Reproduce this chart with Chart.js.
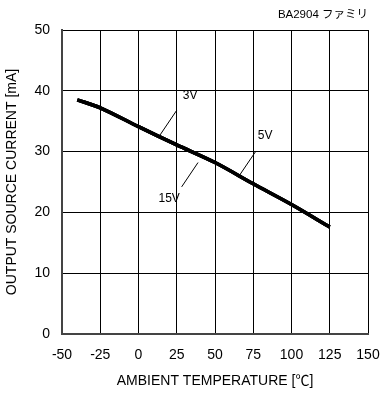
<!DOCTYPE html>
<html>
<head>
<meta charset="utf-8">
<script src="https://cdn.jsdelivr.net/npm/chart.js@4/dist/chart.umd.min.js"></script>
<style>
  html, body { margin: 0; padding: 0; background: #fff; }
  #wrap { width: 381px; height: 394px; position: relative; }
</style>
</head>
<body>
<div id="wrap"><canvas id="c"></canvas></div>
<script>
// temperatures [°C] and source current [mA]
const temps = [-40, -25, 0, 25, 50, 75, 100, 125];
const current3V = [38.5, 37.2, 34.1, 31.1, 28.2, 24.7, 21.3, 17.6];
const current5V = [38.5, 37.2, 34.1, 31.1, 28.2, 24.7, 21.3, 17.6];
const current15V = [38.5, 37.2, 34.1, 31.1, 28.2, 24.7, 21.3, 17.6];

// curve labels: text position and leader line (data coords)
const curveLabels = [
    { text: '3V', tx: 29, ty: 39.2, from: [25, 36.8], to: [14, 32.7], align: 'left' },
    { text: '5V', tx: 78, ty: 32.6, from: [76.8, 30.1], to: [65.2, 25.8], align: 'left' },
    { text: '15V', tx: 27, ty: 22.3, from: [38.9, 28.2], to: [28.2, 24.2], align: 'right' }
];

const FONT = '"Liberation Sans", Arial, "Noto Sans CJK JP", sans-serif';

function toPoints(vals) {
    return temps.map((t, i) => ({ x: t, y: vals[i] }));
}

const labelPlugin = {
    id: 'curveLabels',
    afterDatasetsDraw(chart) {
        const ctx = chart.ctx;
        const xs = chart.scales.x, ys = chart.scales.y;
        ctx.save();
        ctx.strokeStyle = '#000';
        ctx.lineWidth = 1;
        ctx.fillStyle = '#000';
        ctx.font = '12px ' + FONT;
        ctx.textBaseline = 'middle';
        curveLabels.forEach(l => {
            ctx.beginPath();
            ctx.moveTo(xs.getPixelForValue(l.from[0]), ys.getPixelForValue(l.from[1]));
            ctx.lineTo(xs.getPixelForValue(l.to[0]), ys.getPixelForValue(l.to[1]));
            ctx.stroke();
            ctx.textAlign = l.align;
            ctx.fillText(l.text, xs.getPixelForValue(l.tx), ys.getPixelForValue(l.ty));
        });
        // part family note, top right
        ctx.font = '11.5px ' + FONT;
        ctx.textAlign = 'right';
        ctx.fillText('BA2904 ファミリ', chart.chartArea.right, 15);
        ctx.restore();
    }
};

function lineSet(label, vals) {
    return {
        label: label,
        data: toPoints(vals),
        borderColor: '#000',
        borderWidth: 3.5,
        pointRadius: 0,
        tension: 0.3,
        fill: false
    };
}

new Chart(document.getElementById('c'), {
    type: 'line',
    data: {
        datasets: [
            lineSet('3V', current3V),
            lineSet('5V', current5V),
            lineSet('15V', current15V)
        ]
    },
    options: {
        responsive: true,
        maintainAspectRatio: false,
        animation: false,
        layout: { padding: { left: 0, right: 13, top: 30, bottom: 0 } },
        plugins: { legend: { display: false }, tooltip: { enabled: false } },
        scales: {
            x: {
                type: 'linear',
                min: -50, max: 150,
                afterFit(s) { s.height = 60; s.paddingLeft = 0; s.paddingRight = 0; },
                ticks: { stepSize: 25, color: '#000', padding: 13, font: { family: FONT, size: 14 } },
                grid: { color: '#000', lineWidth: 1, drawTicks: false },
                border: { color: '#444', width: 2 },
                title: {
                    display: true,
                    text: 'AMBIENT TEMPERATURE [℃]',
                    color: '#000',
                    font: { family: FONT, size: 14 },
                    padding: { top: 4 }
                }
            },
            y: {
                min: 0, max: 50,
                afterFit(s) { s.width = 62; s.paddingTop = 0; s.paddingBottom = 0; },
                ticks: { stepSize: 10, color: '#000', padding: 12, font: { family: FONT, size: 14 } },
                grid: { color: '#000', lineWidth: 1, drawTicks: false },
                border: { color: '#444', width: 2 },
                title: {
                    display: true,
                    text: 'OUTPUT SOURCE CURRENT [mA]',
                    color: '#000',
                    font: { family: FONT, size: 14 },
                    padding: { bottom: 2 }
                }
            }
        }
    },
    plugins: [labelPlugin]
});
</script>
</body>
</html>
